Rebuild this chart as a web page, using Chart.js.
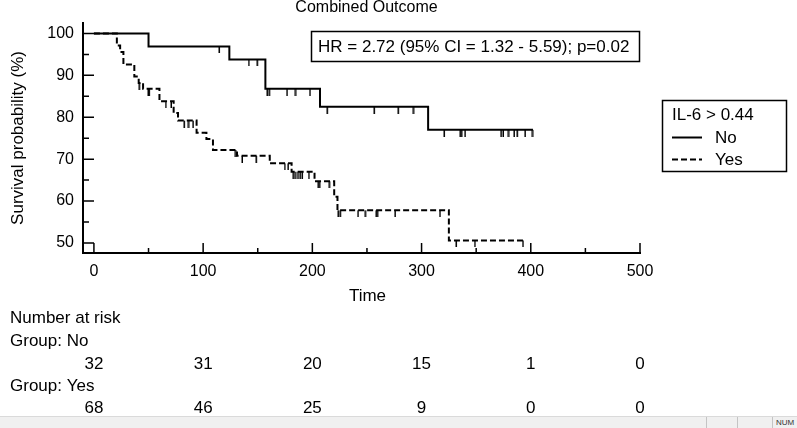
<!DOCTYPE html>
<html lang="en">
<head>
    <meta charset="utf-8">
    <script src="https://cdn.jsdelivr.net/npm/chart.js"></script>
    <style>
        html, body {
            margin: 0;
            padding: 0;
            background: #fff;
        }

        #wrap {
            width: 797px;
            height: 416px;
            position: relative;
        }

        #statusbar {
            width: 797px;
            height: 12px;
            position: relative;
            background: #f0f0f0;
            border-top: 1px solid #dadada;
            box-sizing: border-box;
            font: 8px "Liberation Sans", Arial, sans-serif;
            color: #333;
        }

        .sep {
            position: absolute;
            top: 0;
            height: 11px;
            border-left: 1px solid #c4c4c4;
        }
    </style>
</head>
<body>
    <div id="wrap">
        <canvas id="km" width="797" height="416"></canvas>
    </div>
    <div id="statusbar">
        <div class="sep" style="left: 706px"></div>
        <div class="sep" style="left: 737px"></div>
        <div class="sep" style="left: 772px"></div>
        <span style="position: absolute; left: 776px; top: 1px">NUM</span>
    </div>

    <script>
        const xTicks = [0, 100, 200, 300, 400, 500];
        const xMinor = [50, 150, 250, 350, 450];
        const yTicks = [50, 60, 70, 80, 90, 100];
        const yMinor = [55, 65, 75, 85, 95];

        // time of each step and survival (%) just after it
        const noTimes = [0, 50, 124, 157, 207, 306];
        const noSurv = [100, 96.9, 93.8, 86.8, 82.5, 77.0];
        const noLast = 402;
        const noCensored = [115, 142, 150, 159, 161, 177, 185, 198, 214, 257, 279, 293,
            321, 336, 337, 340, 373, 375, 380, 385, 388, 395, 402];

        const yesTimes = [0, 21, 24, 27, 37, 41, 45, 60, 73, 77, 94, 103, 109, 131, 161, 181, 202, 220, 223, 325];
        const yesSurv = [100, 97.1, 95.6, 92.6, 89.7, 88.2, 86.8, 83.8, 81.0, 79.2, 76.3, 74.8, 72.2, 70.8,
            69.0, 67.0, 64.7, 61.0, 57.8, 50.6];
        const yesLast = 393;
        const yesCensored = [42, 50, 51, 66, 71, 83, 87, 91, 130, 136, 149, 175, 178, 183, 185, 187, 189,
            191, 197, 206, 207, 216, 224, 226, 242, 249, 259, 260, 276, 317, 332, 349, 393];

        const riskTimes = [0, 100, 200, 300, 400, 500];
        const riskNo = [32, 31, 20, 15, 1, 0];
        const riskYes = [68, 46, 25, 9, 0, 0];

        const FONT = '"Liberation Sans", Arial, sans-serif';

        function survAt(times, surv, t) {
            let s = surv[0];
            for (let i = 0; i < times.length; i++) {
                if (times[i] <= t) s = surv[i];
            }
            return s;
        }

        function stepData(times, surv, last) {
            const pts = times.map((t, i) => ({ x: t, y: surv[i] }));
            pts.push({ x: last, y: survAt(times, surv, last) });
            return pts;
        }

        function censorData(times, surv, cens) {
            return cens.map(t => ({ x: t, y: survAt(times, surv, t) }));
        }

        // censor mark: short vertical tick hanging below the curve
        const tick = document.createElement('canvas');
        tick.width = 3;
        tick.height = 14;
        const tctx = tick.getContext('2d');
        tctx.fillStyle = '#000';
        tctx.fillRect(0.5, 7, 1.5, 7);

        const annotate = {
            id: 'annotate',
            afterDraw(chart) {
                const { ctx, chartArea: area, scales: { x, y } } = chart;
                ctx.save();
                ctx.strokeStyle = '#000';
                ctx.fillStyle = '#000';

                // inward axis ticks
                ctx.lineWidth = 1.5;
                ctx.beginPath();
                xTicks.forEach(v => {
                    const px = x.getPixelForValue(v);
                    ctx.moveTo(px, area.bottom);
                    ctx.lineTo(px, area.bottom - 10);
                });
                xMinor.forEach(v => {
                    const px = x.getPixelForValue(v);
                    ctx.moveTo(px, area.bottom);
                    ctx.lineTo(px, area.bottom - 5);
                });
                yTicks.forEach(v => {
                    const py = y.getPixelForValue(v);
                    ctx.moveTo(area.left, py);
                    ctx.lineTo(area.left + 11, py);
                });
                yMinor.forEach(v => {
                    const py = y.getPixelForValue(v);
                    ctx.moveTo(area.left, py);
                    ctx.lineTo(area.left + 6, py);
                });
                ctx.stroke();

                ctx.textBaseline = 'middle';

                // title
                ctx.font = '16px ' + FONT;
                ctx.textAlign = 'center';
                ctx.fillText('Combined Outcome', (area.left + area.right) / 2 + 5, 8);
                ctx.font = '17px ' + FONT;
                ctx.fillText('Time', (area.left + area.right) / 2 + 6, 296);

                // HR box
                ctx.lineWidth = 1.5;
                ctx.strokeRect(311.5, 31.5, 328, 30);
                ctx.font = '17px ' + FONT;
                ctx.textAlign = 'left';
                ctx.fillText('HR = 2.72 (95% CI = 1.32 - 5.59); p=0.02', 318, 47);

                // legend box
                ctx.strokeRect(662.5, 100.5, 124, 71);
                ctx.font = '17px ' + FONT;
                ctx.fillText('IL-6 > 0.44', 672, 115);
                ctx.fillText('No', 715, 138);
                ctx.fillText('Yes', 715, 160);
                ctx.lineWidth = 2;
                ctx.beginPath();
                ctx.moveTo(672, 137.5);
                ctx.lineTo(702, 137.5);
                ctx.stroke();
                ctx.setLineDash([6, 3]);
                ctx.beginPath();
                ctx.moveTo(672, 159.5);
                ctx.lineTo(702, 159.5);
                ctx.stroke();
                ctx.setLineDash([]);

                // number at risk table
                ctx.textAlign = 'left';
                ctx.fillText('Number at risk', 10, 318);
                ctx.fillText('Group: No', 10, 341);
                ctx.fillText('Group: Yes', 10, 386);
                ctx.textAlign = 'center';
                riskTimes.forEach((t, i) => {
                    const px = x.getPixelForValue(t);
                    ctx.fillText(String(riskNo[i]), px, 364);
                    ctx.fillText(String(riskYes[i]), px, 408);
                });
                ctx.restore();
            }
        };

        const ctx = document.getElementById('km').getContext('2d');

        const chart = new Chart(ctx, {
            type: 'scatter',
            data: {
                datasets: [{
                    label: 'No',
                    data: stepData(noTimes, noSurv, noLast),
                    showLine: true,
                    stepped: 'before',
                    borderColor: '#000',
                    borderWidth: 2,
                    pointRadius: 0
                }, {
                    label: 'Yes',
                    data: stepData(yesTimes, yesSurv, yesLast),
                    showLine: true,
                    stepped: 'before',
                    borderColor: '#000',
                    borderWidth: 2,
                    borderDash: [6, 3],
                    pointRadius: 0
                }, {
                    label: 'No censored',
                    data: censorData(noTimes, noSurv, noCensored),
                    pointStyle: tick,
                    pointRadius: 7
                }, {
                    label: 'Yes censored',
                    data: censorData(yesTimes, yesSurv, yesCensored),
                    pointStyle: tick,
                    pointRadius: 7
                }]
            },
            options: {
                responsive: false,
                animation: false,
                events: [],
                layout: {
                    padding: { left: 0, right: 157, top: 23, bottom: 0 }
                },
                plugins: {
                    legend: { display: false },
                    tooltip: { enabled: false },
                    title: { display: false }
                },
                scales: {
                    x: {
                        type: 'linear',
                        min: -10,
                        max: 500,
                        afterFit: s => { s.height = 163; },
                        afterBuildTicks: s => { s.ticks = xTicks.map(v => ({ value: v })); },
                        grid: { display: false, drawTicks: false },
                        border: { display: true, color: '#000', width: 2 },
                        ticks: {
                            padding: 9,
                            color: '#000',
                            maxRotation: 0,
                            font: { family: FONT, size: 16 }
                        }
                    },
                    y: {
                        type: 'linear',
                        min: 47.6,
                        max: 102.5,
                        afterFit: s => { s.width = 83; },
                        afterBuildTicks: s => { s.ticks = yTicks.map(v => ({ value: v })); },
                        grid: { display: false, drawTicks: false },
                        border: { display: true, color: '#000', width: 2 },
                        title: {
                            display: true,
                            text: 'Survival probability (%)',
                            color: '#000',
                            font: { family: FONT, size: 17 },
                            padding: { top: 8, bottom: 0 }
                        },
                        ticks: {
                            padding: 9,
                            color: '#000',
                            font: { family: FONT, size: 16 }
                        }
                    }
                }
            },
            plugins: [annotate]
        });
    </script>
</body>
</html>
